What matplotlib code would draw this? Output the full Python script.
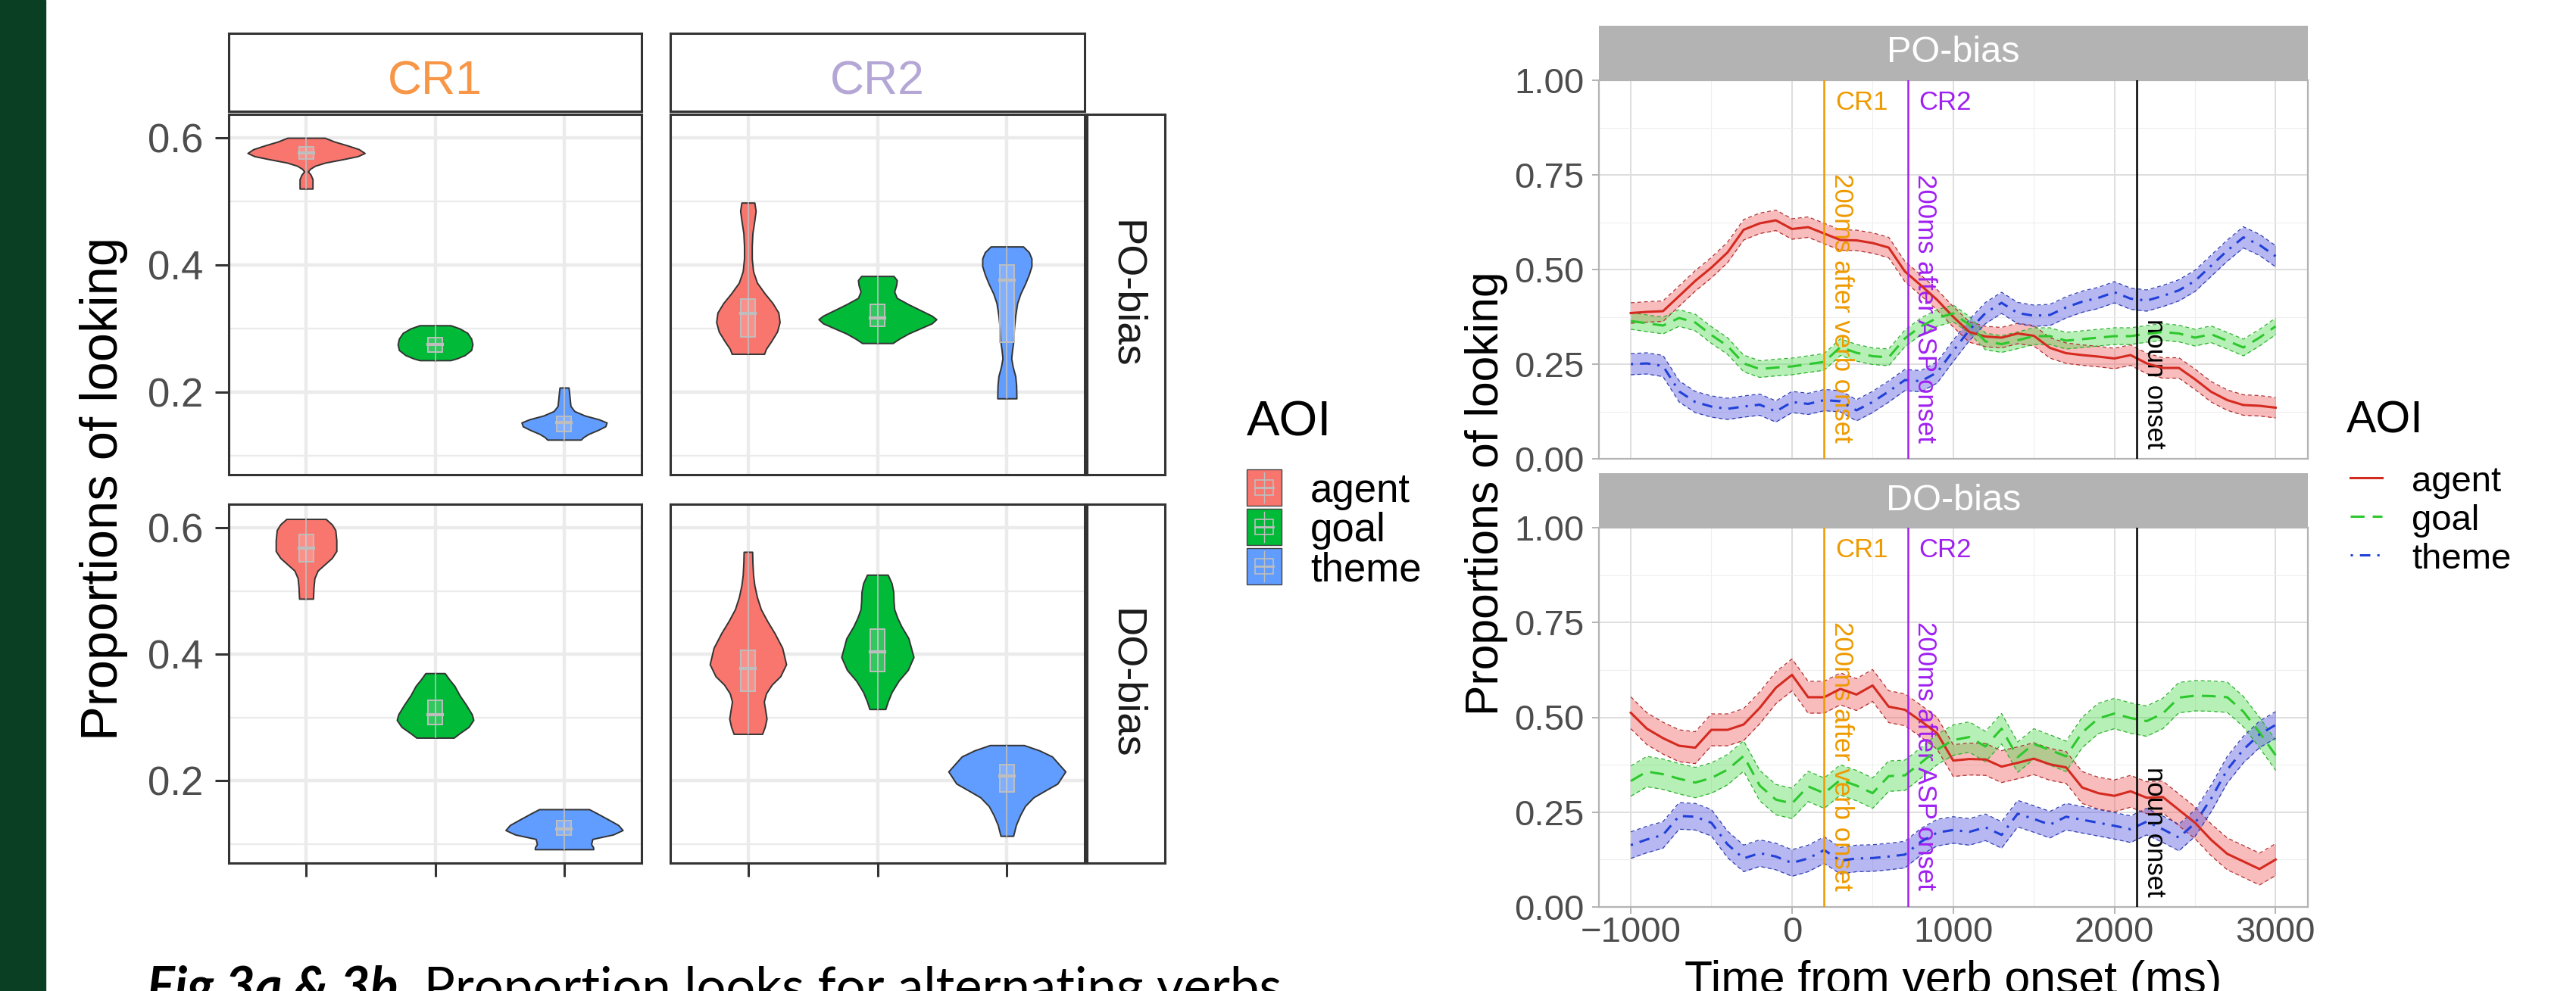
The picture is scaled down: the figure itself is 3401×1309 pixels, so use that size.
import numpy as np
import matplotlib.pyplot as plt
from matplotlib.patches import Rectangle
from matplotlib.ticker import FormatStrFormatter

plt.rcParams['font.family'] = ['Liberation Sans', 'DejaVu Sans']

# ---------------- data ----------------
aois = ['agent', 'goal', 'theme']

# violin outlines: (proportion, half width), top to bottom
po_cr1_agent = [(0.600, 0.145), (0.594, 0.22), (0.588, 0.32), (0.582, 0.41), (0.576, 0.454),
                (0.571, 0.40), (0.566, 0.28), (0.561, 0.15), (0.556, 0.07), (0.551, 0.03),
                (0.547, 0.015), (0.542, 0.035), (0.535, 0.05), (0.527, 0.05), (0.520, 0.05)]
po_cr1_goal = [(0.305, 0.12), (0.300, 0.19), (0.293, 0.25), (0.284, 0.28), (0.275, 0.29),
               (0.266, 0.28), (0.258, 0.23), (0.253, 0.17), (0.250, 0.12)]
po_cr1_theme = [(0.207, 0.035), (0.198, 0.04), (0.188, 0.045), (0.178, 0.05), (0.170, 0.08),
                (0.163, 0.16), (0.157, 0.27), (0.152, 0.33), (0.146, 0.32), (0.140, 0.26),
                (0.134, 0.19), (0.129, 0.15), (0.125, 0.13)]
po_cr2_agent = [(0.498, 0.05), (0.485, 0.06), (0.470, 0.05), (0.450, 0.035), (0.430, 0.03),
                (0.410, 0.03), (0.390, 0.04), (0.372, 0.07), (0.355, 0.13), (0.340, 0.19),
                (0.325, 0.235), (0.310, 0.245), (0.295, 0.225), (0.280, 0.18), (0.268, 0.14),
                (0.260, 0.125)]
po_cr2_goal = [(0.3825, 0.125), (0.376, 0.15), (0.368, 0.145), (0.358, 0.13), (0.348, 0.15),
               (0.338, 0.24), (0.328, 0.34), (0.320, 0.42), (0.3145, 0.455), (0.308, 0.42),
               (0.300, 0.33), (0.292, 0.24), (0.284, 0.17), (0.277, 0.118)]
po_cr2_theme = [(0.429, 0.125), (0.420, 0.17), (0.410, 0.19), (0.398, 0.19), (0.385, 0.17),
                (0.370, 0.14), (0.355, 0.105), (0.340, 0.08), (0.320, 0.065), (0.300, 0.055),
                (0.280, 0.05), (0.265, 0.04), (0.253, 0.034), (0.240, 0.045), (0.225, 0.065),
                (0.210, 0.072), (0.190, 0.074)]
do_cr1_agent = [(0.6136, 0.153), (0.605, 0.20), (0.596, 0.227), (0.580, 0.235), (0.563, 0.235),
                (0.552, 0.20), (0.542, 0.145), (0.532, 0.09), (0.520, 0.065), (0.505, 0.058),
                (0.4876, 0.054)]
do_cr1_goal = [(0.370, 0.075), (0.360, 0.11), (0.350, 0.15), (0.335, 0.19), (0.320, 0.24),
               (0.305, 0.285), (0.296, 0.297), (0.285, 0.26), (0.275, 0.19), (0.268, 0.145)]
do_cr1_theme = [(0.155, 0.194), (0.148, 0.26), (0.138, 0.35), (0.130, 0.42), (0.122, 0.454),
                (0.115, 0.38), (0.108, 0.22), (0.100, 0.21), (0.095, 0.225), (0.0917, 0.227)]
do_cr2_agent = [(0.5617, 0.033), (0.545, 0.035), (0.525, 0.04), (0.509, 0.05), (0.490, 0.07),
                (0.471, 0.10), (0.452, 0.15), (0.4335, 0.205), (0.410, 0.265), (0.384, 0.295),
                (0.365, 0.25), (0.352, 0.185), (0.338, 0.14), (0.325, 0.123), (0.310, 0.135),
                (0.298, 0.144), (0.285, 0.13), (0.274, 0.11)]
do_cr2_goal = [(0.5255, 0.08), (0.512, 0.11), (0.498, 0.123), (0.484, 0.125), (0.471, 0.13),
               (0.457, 0.155), (0.444, 0.185), (0.425, 0.24), (0.3955, 0.279), (0.375, 0.235),
               (0.358, 0.164), (0.340, 0.11), (0.325, 0.08), (0.3132, 0.0615)]
do_cr2_theme = [(0.2563, 0.131), (0.248, 0.25), (0.2383, 0.349), (0.2146, 0.452), (0.1954, 0.39),
                (0.185, 0.30), (0.1737, 0.205), (0.160, 0.14), (0.146, 0.103), (0.130, 0.07),
                (0.1129, 0.049)]

# boxplot (q1, median, q3) per AOI
box_po_cr1 = [(0.567, 0.576, 0.586), (0.263, 0.275, 0.286), (0.1375, 0.152, 0.1614)]
box_po_cr2 = [(0.287, 0.324, 0.346), (0.304, 0.317, 0.338), (0.279, 0.3756, 0.3995)]
box_do_cr1 = [(0.546, 0.5677, 0.589), (0.2884, 0.305, 0.3272), (0.1137, 0.124, 0.1365)]
box_do_cr2 = [(0.342, 0.378, 0.4065), (0.373, 0.4036, 0.440), (0.1826, 0.2075, 0.225)]

# time course, 100 ms bins
time_ms = np.arange(-1000, 3001, 100)
po_agent = [0.385, 0.388, 0.390, 0.430, 0.470, 0.505, 0.545, 0.605, 0.622, 0.630,
            0.607, 0.612, 0.595, 0.578, 0.577, 0.570, 0.558, 0.495, 0.458, 0.420,
            0.375, 0.335, 0.323, 0.320, 0.331, 0.325, 0.293, 0.279, 0.274, 0.270,
            0.265, 0.274, 0.252, 0.240, 0.240, 0.210, 0.177, 0.155, 0.142, 0.140, 0.135]
po_goal = [0.364, 0.358, 0.352, 0.372, 0.360, 0.327, 0.298, 0.252, 0.237, 0.241,
           0.244, 0.250, 0.256, 0.295, 0.280, 0.271, 0.268, 0.318, 0.350, 0.372,
           0.384, 0.354, 0.310, 0.303, 0.313, 0.324, 0.324, 0.312, 0.316, 0.320,
           0.324, 0.324, 0.330, 0.335, 0.331, 0.320, 0.329, 0.312, 0.294, 0.320, 0.350]
po_theme = [0.250, 0.252, 0.245, 0.178, 0.150, 0.138, 0.132, 0.138, 0.143, 0.125,
            0.150, 0.145, 0.155, 0.152, 0.128, 0.150, 0.178, 0.208, 0.205, 0.228,
            0.285, 0.340, 0.385, 0.412, 0.385, 0.378, 0.380, 0.400, 0.415, 0.425,
            0.440, 0.423, 0.418, 0.430, 0.445, 0.470, 0.510, 0.550, 0.585, 0.565, 0.535]
do_agent = [0.512, 0.470, 0.445, 0.425, 0.420, 0.467, 0.467, 0.481, 0.525, 0.578,
            0.612, 0.553, 0.553, 0.575, 0.560, 0.584, 0.528, 0.520, 0.490, 0.458,
            0.386, 0.390, 0.389, 0.370, 0.380, 0.391, 0.376, 0.368, 0.315, 0.300,
            0.293, 0.305, 0.288, 0.290, 0.256, 0.222, 0.177, 0.140, 0.120, 0.100, 0.125]
do_goal = [0.332, 0.357, 0.350, 0.338, 0.328, 0.340, 0.362, 0.398, 0.320, 0.283,
           0.273, 0.318, 0.300, 0.335, 0.320, 0.300, 0.345, 0.347, 0.380, 0.415,
           0.440, 0.448, 0.423, 0.470, 0.395, 0.430, 0.414, 0.397, 0.460, 0.497,
           0.510, 0.498, 0.490, 0.510, 0.552, 0.557, 0.556, 0.553, 0.515, 0.460, 0.400]
do_theme = [0.163, 0.178, 0.190, 0.240, 0.238, 0.222, 0.165, 0.128, 0.142, 0.133,
            0.116, 0.128, 0.150, 0.122, 0.128, 0.129, 0.133, 0.138, 0.172, 0.196,
            0.203, 0.198, 0.210, 0.190, 0.246, 0.232, 0.217, 0.238, 0.230, 0.222,
            0.214, 0.205, 0.225, 0.205, 0.183, 0.221, 0.286, 0.362, 0.415, 0.455, 0.480]
# half width of the confidence ribbons
po_ci = [0.027, 0.022, 0.028]
do_ci = [0.042, 0.040, 0.035]

cr1_ms, cr2_ms, noun_ms = 200, 717, 2140

# ---------------- styles ----------------
violin_fill = ['#F8766D', '#00BA38', '#619CFF']
line_col = ['#D42A20', '#2DC82D', '#2040D8']
fill_col = ['#F06060', '#55DD55', '#5555E0']
edge_col = ['#B03030', '#30B030', '#3040B0']
line_ls = ['-', (0, (6, 3.5)), (0, (1, 3, 4.5, 3))]
cr1_col, cr2_col = '#EE9A00', '#A020F0'
tick_grey = '#4D4D4D'

W, H, DPI = 3401, 1309, 100
fig = plt.figure(figsize=(W / DPI, H / DPI), dpi=DPI)


def frac(x0, y0, x1, y1):
    # pixel box measured from the top left -> figure fraction
    return [x0 / W, 1 - y1 / H, (x1 - x0) / W, (y1 - y0) / H]


# ---------------- fig 3a: violins ----------------
violins = {
    ('PO', 'CR1'): ([po_cr1_agent, po_cr1_goal, po_cr1_theme], box_po_cr1),
    ('PO', 'CR2'): ([po_cr2_agent, po_cr2_goal, po_cr2_theme], box_po_cr2),
    ('DO', 'CR1'): ([do_cr1_agent, do_cr1_goal, do_cr1_theme], box_do_cr1),
    ('DO', 'CR2'): ([do_cr2_agent, do_cr2_goal, do_cr2_theme], box_do_cr2),
}
rows = [('PO', 'PO-bias', 151, 627), ('DO', 'DO-bias', 666, 1140)]
cols = [('CR1', '#F79646', 302, 847), ('CR2', '#B4A7D6', 885, 1432)]
bw = 0.055

for r, (rk, rlab, y0, y1) in enumerate(rows):
    for c, (ck, ccol, x0, x1) in enumerate(cols):
        ax = fig.add_axes(frac(x0, y0, x1, y1))
        profs, boxes = violins[(rk, ck)]
        for i, (prof, (q1, med, q3), col) in enumerate(zip(profs, boxes, violin_fill)):
            pos = i + 1
            ys = np.array([p[0] for p in prof])
            hw = np.array([p[1] for p in prof])
            ax.fill_betweenx(ys, pos - hw, pos + hw, facecolor=col, edgecolor='#333333',
                             linewidth=1.4, zorder=3)
            ax.plot([pos, pos], [ys.min(), ys.max()], color='#BEBEBE', lw=1.2, zorder=4)
            ax.add_patch(Rectangle((pos - bw, q1), 2 * bw, q3 - q1, facecolor=(1, 1, 1, 0.2),
                                   edgecolor='#BEBEBE', lw=1.4, zorder=5))
            ax.plot([pos - bw, pos + bw], [med, med], color='#BEBEBE', lw=3, zorder=6)
        ax.set_xlim(0.4, 3.6)
        ax.set_ylim(0.07, 0.637)
        ax.set_xticks([1, 2, 3])
        ax.set_yticks([0.2, 0.4, 0.6])
        ax.set_yticks([0.1, 0.3, 0.5], minor=True)
        ax.grid(which='major', color='#EBEBEB', lw=3.2)
        ax.grid(which='minor', axis='y', color='#EBEBEB', lw=1.6)
        ax.set_axisbelow(True)
        for s in ax.spines.values():
            s.set_color('#333333')
            s.set_linewidth(2.2)
        ax.tick_params(which='minor', length=0)
        ax.tick_params(which='major', length=13, width=2.2, color='#333333', labelsize=38,
                       labelcolor=tick_grey, pad=11)
        ax.tick_params(left=(c == 0), labelleft=(c == 0), bottom=(r == 1), labelbottom=False)

        if r == 0:
            sax = fig.add_axes(frac(x0, 44, x1, 147))
            sax.set_xticks([])
            sax.set_yticks([])
            for s in sax.spines.values():
                s.set_color('#333333')
                s.set_linewidth(2.2)
            sax.text(0.5, 0.22, ck, color=ccol, fontsize=45, ha='center', va='baseline',
                     transform=sax.transAxes)
    sax = fig.add_axes(frac(1435, y0, 1538, y1))
    sax.set_xticks([])
    sax.set_yticks([])
    for s in sax.spines.values():
        s.set_color('#333333')
        s.set_linewidth(2.2)
    sax.text(0.5, 0.5, rlab, color='#1A1A1A', fontsize=39, rotation=270,
             ha='center', va='center', transform=sax.transAxes)

# ---------------- fig 3b: time course ----------------
ts_rows = [('PO-bias', [po_agent, po_goal, po_theme], po_ci, 106, 606, 33.5),
           ('DO-bias', [do_agent, do_goal, do_theme], do_ci, 697, 1198, 625)]

for r, (lab, series, ci, y0, y1, sy0) in enumerate(ts_rows):
    ax = fig.add_axes(frac(2110.5, y0, 3047, y1))
    for k, (vals, half) in enumerate(zip(series, ci)):
        v = np.array(vals)
        ax.fill_between(time_ms, v - half, v + half, color=fill_col[k], alpha=0.42, lw=0, zorder=2)
        ax.plot(time_ms, v + half, color=edge_col[k], lw=0.9, ls=(0, (4, 3)), zorder=3)
        ax.plot(time_ms, v - half, color=edge_col[k], lw=0.9, ls=(0, (4, 3)), zorder=3)
        ax.plot(time_ms, v, color=line_col[k], lw=2.2, ls=line_ls[k], zorder=4)

    ax.axvline(cr1_ms, color=cr1_col, lw=1.8, zorder=5)
    ax.axvline(cr2_ms, color=cr2_col, lw=1.8, zorder=5)
    ax.axvline(noun_ms, color='black', lw=1.8, zorder=5)
    ax.annotate('CR1', xy=(cr1_ms, 0.922), xytext=(10.8, 0), textcoords='offset points',
                color=cr1_col, fontsize=25, ha='left', va='baseline')
    ax.annotate('CR2', xy=(cr2_ms, 0.922), xytext=(10.8, 0), textcoords='offset points',
                color=cr2_col, fontsize=25, ha='left', va='baseline')
    ax.annotate('200ms after verb onset', xy=(cr1_ms, 0.043), xytext=(4.5, 0),
                textcoords='offset points', rotation=-90, color=cr1_col, fontsize=25,
                ha='left', va='bottom')
    ax.annotate('200ms after ASP onset', xy=(cr2_ms, 0.043), xytext=(4.5, 0),
                textcoords='offset points', rotation=-90, color=cr2_col, fontsize=25,
                ha='left', va='bottom')
    ax.annotate('noun onset', xy=(noun_ms, 0.027), xytext=(4.5, 0),
                textcoords='offset points', rotation=-90, color='black', fontsize=25,
                ha='left', va='bottom')

    ax.set_xlim(-1200, 3200)
    ax.set_ylim(0, 1)
    ax.set_xticks([-1000, 0, 1000, 2000, 3000])
    ax.set_xticks([-500, 500, 1500, 2500], minor=True)
    ax.set_yticks([0, 0.25, 0.5, 0.75, 1.0])
    ax.set_yticks([0.125, 0.375, 0.625, 0.875], minor=True)
    ax.yaxis.set_major_formatter(FormatStrFormatter('%.2f'))
    ax.grid(which='major', color='#DEDEDE', lw=1.4)
    ax.grid(which='minor', color='#EEEEEE', lw=0.8)
    ax.set_axisbelow(True)
    for s in ax.spines.values():
        s.set_color('#B3B3B3')
        s.set_linewidth(1.6)
    ax.tick_params(which='minor', length=0)
    ax.tick_params(which='major', length=6.5, width=1.4, color='#B3B3B3', labelsize=34,
                   labelcolor=tick_grey)
    ax.tick_params(axis='y', pad=7)
    ax.tick_params(axis='x', pad=2.5, bottom=(r == 1), labelbottom=(r == 1))

    sax = fig.add_axes(frac(2110.5, sy0, 3047, y0))
    sax.set_facecolor('#B3B3B3')
    sax.set_xticks([])
    sax.set_yticks([])
    for s in sax.spines.values():
        s.set_visible(False)
    sax.text(0.5, 0.5, lab, color='white', fontsize=35, ha='center', va='center',
             transform=sax.transAxes)

# ---------------- overlay: titles, legends, caption ----------------
ov = fig.add_axes([0, 0, 1, 1], facecolor='none')
ov.set_xlim(0, W)
ov.set_ylim(H, 0)
ov.axis('off')
ov.add_patch(Rectangle((0, 0), 60, H, color='#0B3F24'))

ov.text(137, 645, 'Proportions of looking', rotation=90, fontsize=49.5,
        ha='center', va='center')
ov.text(1963, 652, 'Proportions of looking', rotation=90, fontsize=43.7,
        ha='center', va='center')
ov.text(2578.5, 1312, 'Time from verb onset (ms)', fontsize=43.7, ha='center', va='baseline')

# legend for violins
ov.text(1646, 576, 'AOI', fontsize=47, va='baseline')
for i, (name, col) in enumerate(zip(aois, violin_fill)):
    ky = 620 + i * 52
    ov.add_patch(Rectangle((1646, ky), 46, 48, facecolor=col, edgecolor='#444444', lw=1))
    ov.plot([1669, 1669], [ky + 4, ky + 44], color='#BEBEBE', lw=1)
    ov.add_patch(Rectangle((1657, ky + 14), 24, 20, facecolor='none', edgecolor='#BEBEBE', lw=1.2))
    ov.plot([1657, 1681], [ky + 24, ky + 24], color='#BEBEBE', lw=2)
    ov.text(1730, ky + 43, name, fontsize=38, va='baseline')

# legend for time course
ov.text(3098, 572, 'AOI', fontsize=42.5, va='baseline')
for i, name in enumerate(aois):
    ly = 631 + i * 51
    ov.plot([3103, 3145], [ly, ly], color=line_col[i], ls=line_ls[i], lw=2.2)
    ov.text(3184, ly + 18, name, fontsize=34, va='baseline')

# caption, only its top shows at the bottom edge
t1 = ov.text(194, 1326, 'Fig 3a & 3b.', fontsize=49.5, family='Lato', fontweight='bold',
             fontstyle='italic', va='baseline')
ov.annotate(' Proportion looks for alternating verbs', xy=(1, 0), xycoords=t1,
            fontsize=49.5, family='Lato', va='bottom', ha='left')

fig.savefig('out.png', dpi=DPI)
